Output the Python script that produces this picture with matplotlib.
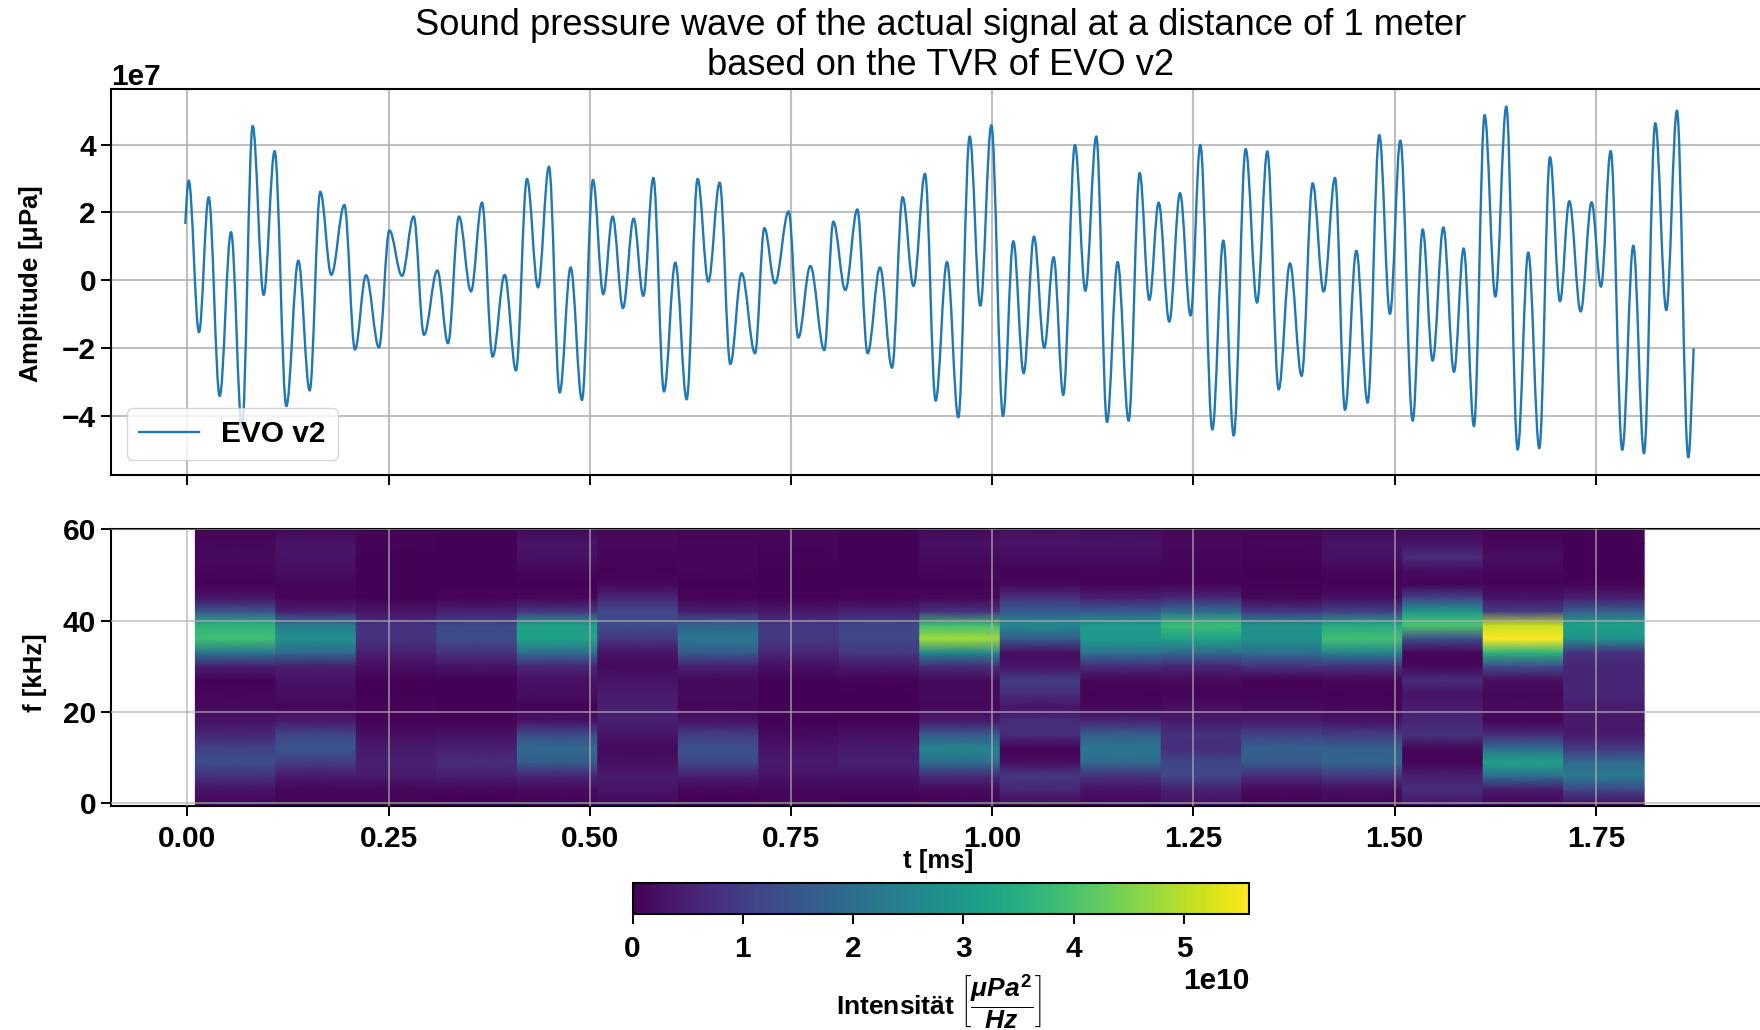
import numpy as np
import matplotlib
matplotlib.use("Agg")
import matplotlib.pyplot as plt
from matplotlib.path import Path
from matplotlib.patches import PathPatch
from matplotlib.lines import Line2D
from matplotlib.cm import ScalarMappable
from matplotlib.colors import Normalize

plt.rcParams['font.family'] = ['Liberation Sans', 'DejaVu Sans']
plt.rcParams['mathtext.fontset'] = 'custom'
plt.rcParams['mathtext.rm'] = 'Liberation Sans:bold'
plt.rcParams['mathtext.it'] = 'Liberation Sans:italic:bold'
plt.rcParams['mathtext.bf'] = 'Liberation Sans:bold'

# Turning points of the pressure wave
wave_t = [-0.0025, 0.0017, 0.0145, 0.0265, 0.0402, 0.0543, 0.0679, 0.0812, 0.0948, 0.1085, 0.1230, 0.1379,
          0.1520, 0.1652, 0.1789, 0.1951, 0.2083, 0.2220, 0.2381, 0.2510, 0.2667, 0.2812, 0.2940, 0.3106,
          0.3239, 0.3375, 0.3524, 0.3661, 0.3793, 0.3943, 0.4083, 0.4220, 0.4357, 0.4493, 0.4626, 0.4762,
          0.4903, 0.5040, 0.5168, 0.5284, 0.5413, 0.5545, 0.5665, 0.5790, 0.5922, 0.6063, 0.6204, 0.6340,
          0.6473, 0.6614, 0.6746, 0.6887, 0.7053, 0.7169, 0.7301, 0.7471, 0.7591, 0.7740, 0.7914, 0.8026,
          0.8175, 0.8324, 0.8452, 0.8606, 0.8755, 0.8887, 0.9022, 0.9165, 0.9297, 0.9438, 0.9579, 0.9720,
          0.9852, 0.9989, 1.0134, 1.0262, 1.0391, 1.0519, 1.0647, 1.0763, 1.0883, 1.1028, 1.1157, 1.1293,
          1.1426, 1.1558, 1.1695, 1.1832, 1.1952, 1.2068, 1.2200, 1.2333, 1.2465, 1.2585, 1.2735, 1.2871,
          1.3000, 1.3149, 1.3290, 1.3418, 1.3559, 1.3699, 1.3844, 1.3981, 1.4118, 1.4259, 1.4383, 1.4524,
          1.4664, 1.4809, 1.4942, 1.5070, 1.5224, 1.5348, 1.5472, 1.5605, 1.5737, 1.5857, 1.5985, 1.6118,
          1.6251, 1.6387, 1.6528, 1.6660, 1.6797, 1.6930, 1.7054, 1.7170, 1.7311, 1.7447, 1.7563, 1.7684,
          1.7828, 1.7965, 1.8098, 1.8238, 1.8375, 1.8507, 1.8648, 1.8715]
wave_amp = [1.66, 2.94, -1.53, 2.45, -3.41, 1.42, -4.37, 4.55, -0.43, 3.81, -3.71, 0.58,
            -3.25, 2.61, 0.16, 2.22, -2.04, 0.15, -1.98, 1.47, 0.13, 1.88, -1.61, 0.29,
            -1.86, 1.88, -0.33, 2.29, -2.25, 0.16, -2.66, 2.99, -0.21, 3.35, -3.31, 0.38,
            -3.53, 2.96, -0.41, 1.88, -0.82, 1.82, -0.46, 3.02, -3.28, 0.52, -3.51, 2.99,
            -0.04, 2.88, -2.47, 0.21, -2.15, 1.54, -0.09, 2.03, -1.69, 0.42, -2.06, 1.73,
            -0.29, 2.09, -2.15, 0.38, -2.58, 2.45, -0.17, 3.14, -3.55, 0.54, -4.04, 4.24,
            -0.75, 4.57, -4.00, 1.15, -2.74, 1.29, -1.99, 0.68, -3.38, 3.99, -0.31, 4.24,
            -4.18, 0.54, -4.14, 3.16, -0.58, 2.29, -1.22, 2.57, -1.04, 3.99, -4.40, 1.17,
            -4.58, 3.87, -0.66, 3.80, -3.22, 0.50, -2.82, 2.86, -0.33, 3.02, -3.82, 0.87,
            -3.61, 4.28, -0.99, 4.12, -4.14, 1.50, -2.37, 1.56, -2.70, 0.94, -4.30, 4.87,
            -0.48, 5.12, -4.99, 0.82, -4.95, 3.63, -0.62, 2.33, -0.92, 2.30, -0.19, 3.81,
            -5.00, 1.02, -5.10, 4.63, -0.88, 5.00, -5.22, -2.01]

# Spectrogram: left edge of each time block, and frequency rows in kHz
spec_t_edges = [0.01, 0.11, 0.21, 0.31, 0.41, 0.51, 0.61, 0.71, 0.81, 0.91, 1.01, 1.11, 1.21, 1.31, 1.41, 1.51, 1.61, 1.71, 1.81]
spec_f = [-0.6, 3, 6, 9, 12, 15, 18, 21, 24, 27, 30, 33, 36, 39, 42, 45, 48, 51, 54, 57, 60.2]
# one list per time block, one value per frequency row, in 1e10 µPa²/Hz
spec_values = [
    [.05, .3, .8, 1.3, 1.1, .6, .3, .15, .1, .05, .5, 2.2, 3.9, 3.6, 1.5, .3, .05, .1, .15, .1, .05],
    [.05, .1, .4, 1.0, 1.5, 1.2, .4, .1, .2, .25, .5, 1.9, 2.8, 2.3, .5, .1, .1, .2, .3, .3, .05],
    [.05, .1, .4, .5, .4, .2, .05, .05, .03, .03, .2, .5, .8, .8, .3, .03, .03, .03, .03, .05, .05],
    [.03, .1, .5, .7, .5, .25, .05, .03, .03, .03, .3, .8, 1.3, 1.2, .5, .05, .03, .03, .03, .03, .03],
    [.05, .15, .6, 1.6, 1.9, 1.3, .3, .05, .2, .25, .6, 2.0, 3.2, 3.2, .9, .1, .03, .1, .25, .3, .1],
    [.1, .3, .4, .2, .15, .3, .5, .5, .4, .3, .15, .3, .9, 1.3, 1.2, .6, .1, .05, .1, .15, .1],
    [.03, .1, .5, 1.2, 1.4, 1.0, .3, .1, .15, .15, .5, 1.6, 2.2, 1.8, .5, .05, .03, .1, .1, .1, .05],
    [.05, .1, .3, .4, .3, .15, .03, .03, .03, .03, .25, .6, .9, .9, .35, .03, .03, .03, .05, .07, .07],
    [.03, .1, .3, .5, .4, .25, .05, .03, .03, .05, .35, .9, 1.2, 1.2, .5, .05, .03, .03, .03, .03, .03],
    [.05, .15, .7, 2.0, 2.5, 1.6, .4, .1, .15, .15, .7, 2.6, 4.8, 3.9, .8, .1, .05, .1, .15, .25, .1],
    [.1, .6, .9, .2, .05, .7, .7, .3, .7, 1.0, .3, .2, 1.6, 2.6, 1.6, .8, .1, .05, .2, .3, .2],
    [.05, .3, .8, 1.9, 2.2, 1.7, .6, .1, .05, .1, .7, 2.1, 3.0, 3.0, 1.6, .5, .05, .05, .2, .3, .15],
    [.2, .5, 1.2, 1.2, .7, .8, .4, .2, .05, .15, .6, 1.9, 3.2, 3.8, 2.0, .6, .05, .05, .1, .15, .1],
    [.05, .15, .7, 1.6, 1.7, 1.1, .4, .15, .05, .05, .8, 2.0, 2.8, 2.8, .9, .1, .05, .03, .05, .1, .05],
    [.05, .2, .9, 1.8, 1.7, 1.0, .3, .1, .05, .1, .8, 2.5, 3.9, 3.4, 1.1, .2, .05, .1, .25, .3, .1],
    [.3, .7, .5, .05, .1, .8, .6, .4, .3, .7, .1, .1, 1.3, 4.0, 3.0, 1.1, .05, .2, .7, .3, .1],
    [.05, .4, 2.0, 3.2, 2.0, .7, .1, .15, .1, .2, 1.3, 3.6, 5.59, 5.1, 1.0, .3, .05, .1, .2, .1, .03],
    [.15, 1.2, 2.3, 1.9, .9, .4, .35, .4, .6, .6, .6, .8, 2.8, 3.2, 1.7, .5, .05, .03, .03, .03, .03],
]
spec_max = 5.59e10

x_ticks = [0.00, 0.25, 0.50, 0.75, 1.00, 1.25, 1.50, 1.75]
x_tick_labels = ['0.00', '0.25', '0.50', '0.75', '1.00', '1.25', '1.50', '1.75']
amp_ticks = [-4e7, -2e7, 0, 2e7, 4e7]
f_ticks = [0, 20, 40, 60]
cbar_ticks = [0, 1e10, 2e10, 3e10, 4e10, 5e10]

W, H = 1760, 1030
fig = plt.figure(figsize=(W / 100, H / 100), dpi=100)


def px_axes(left, top, right, bottom):
    return fig.add_axes([left / W, 1 - bottom / H, (right - left) / W, (bottom - top) / H])


ax1 = px_axes(110.7, 89.3, 1770, 475)
ax2 = px_axes(110.7, 528.5, 1770, 806)
xlim = (-0.0952, (1770 - 187.3) / 804.9)
grid = dict(color='#b0b0b0', alpha=0.8)

# waveform: turning points joined by smooth curves
T = np.asarray(wave_t)
A = np.asarray(wave_amp) * 1e7
verts = [(T[0], A[0])]
codes = [Path.MOVETO]
for i in range(len(T) - 1):
    dt = T[i + 1] - T[i]
    first = i == 0
    last = i == len(T) - 2
    c1y = A[i] + (A[i + 1] - A[i]) * 0.5 if first else A[i]
    c2y = A[i + 1] - (A[i + 1] - A[i]) * 0.4 if last else A[i + 1]
    verts += [(T[i] + 0.36 * dt, c1y), (T[i + 1] - 0.36 * dt, c2y), (T[i + 1], A[i + 1])]
    codes += [Path.CURVE4, Path.CURVE4, Path.CURVE4]
ax1.add_patch(PathPatch(Path(verts, codes), fill=False, edgecolor='#1f77b4', lw=1.7, zorder=2.5, joinstyle='round'))
ax1.set_xlim(*xlim)
ax1.set_ylim(-5.74e7, 5.63e7)
ax1.set_xticks(x_ticks)
ax1.set_xticklabels([])
ax1.set_yticks(amp_ticks)
ax1.grid(True, lw=1.5, **grid)
ax1.set_ylabel(r'Amplitude [$\mathbf{\mu}$Pa]', fontsize=18.5, fontweight='bold')
ax1.yaxis.set_label_coords((45 - 110.7) / (1770 - 110.7), 0.495)
leg = ax1.legend(handles=[Line2D([], [], color='#1f77b4', lw=1.7, label='EVO v2')],
                 loc='lower left', bbox_to_anchor=((127 - 110.7) / 1659.3, (475 - 460) / 385.7), borderaxespad=0,
                 prop=dict(size=21.5, weight='bold'), handlelength=2.0, handletextpad=0.75, framealpha=0.8,
                 borderpad=0.4)
ax1.set_title('Sound pressure wave of the actual signal at a distance of 1 meter\nbased on the TVR of EVO v2',
              fontsize=26.1, pad=10, linespacing=1.2)

# spectrogram
norm = Normalize(0, spec_max)
F = np.asarray(spec_f)
for j, col in enumerate(spec_values):
    C = np.column_stack([col, col]) * 1e10
    ax2.pcolormesh(spec_t_edges[j:j + 2], F, C, shading='gouraud', cmap='viridis', norm=norm, zorder=1)
ax2.set_xlim(*xlim)
ax2.set_ylim(-0.6, 60.2)
ax2.set_xticks(x_ticks)
ax2.set_xticklabels(x_tick_labels)
ax2.set_yticks(f_ticks)
ax2.grid(True, lw=1.1, zorder=2, **grid)
ax2.set_axisbelow(False)
ax2.set_ylabel('f [kHz]', fontsize=18.5, fontweight='bold')
ax2.yaxis.set_label_coords((47 - 110.7) / (1770 - 110.7), 0.48)
ax2.set_xlabel('t [ms]', fontsize=18.5, fontweight='bold', labelpad=0)
ax2.xaxis.set_label_coords((938 - 110.7) / (1770 - 110.7), -(861 - 806) / 277.5, transform=ax2.transAxes)
ax2.xaxis.label.set_va('center')

for ax in (ax1, ax2):
    for s in ax.spines.values():
        s.set_linewidth(1.5)
    ax.tick_params(length=7, width=1.4, labelsize=21.5)
    ax.tick_params(axis='x', pad=7)
    for lab in ax.get_xticklabels() + ax.get_yticklabels():
        lab.set_fontweight('bold')
    ax.yaxis.get_offset_text().set_fontsize(21.5)
    ax.yaxis.get_offset_text().set_fontweight('bold')

# colour bar
cax = px_axes(632.5, 882.7, 1249, 914)
cb = fig.colorbar(ScalarMappable(norm=norm, cmap='viridis'), cax=cax, orientation='horizontal', ticks=cbar_ticks)
cb.outline.set_linewidth(1.5)
cax.tick_params(length=7, width=1.4, labelsize=21.5, pad=8)
for lab in cax.get_xticklabels():
    lab.set_fontweight('bold')
cax.xaxis.get_offset_text().set_fontsize(21.5)
cax.xaxis.get_offset_text().set_fontweight('bold')
fig.text(939 / W, 1 - 1002 / H, r'Intensität $\left[\dfrac{\mu Pa^2}{Hz}\right]$', ha='center', va='center',
         fontsize=19, fontweight='bold')

fig.savefig('out.png', dpi=100)
